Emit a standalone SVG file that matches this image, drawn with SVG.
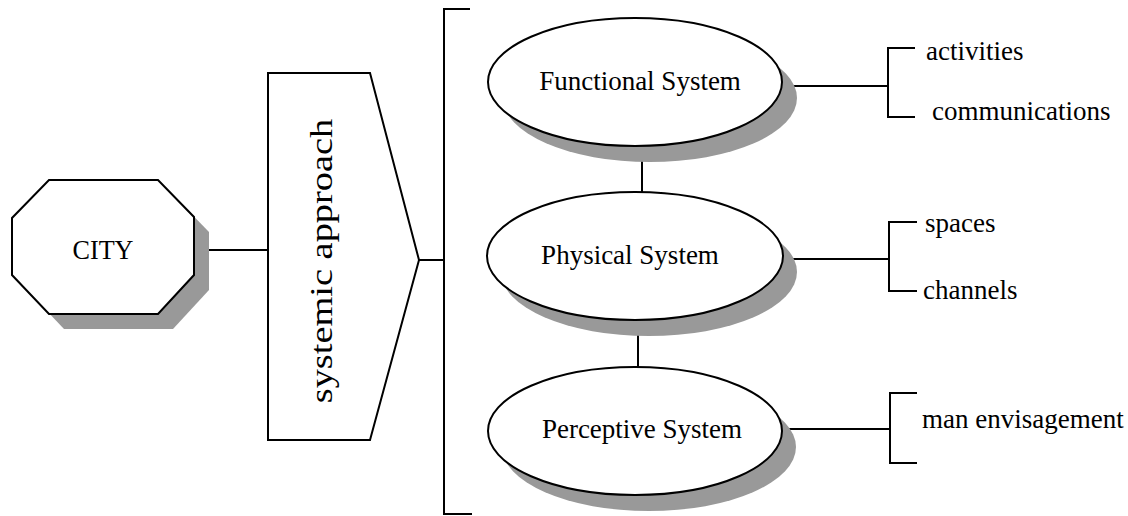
<svg xmlns="http://www.w3.org/2000/svg" width="1128" height="516" viewBox="0 0 1128 516">
<style>
.shape{fill:#ffffff;stroke:#000000;stroke-width:2}
.shadow{fill:#999999;stroke:none}
.line{fill:none;stroke:#000000;stroke-width:2}
text{font-family:"Liberation Serif","Times New Roman",serif;fill:#000000;font-size:27px}
</style>
<rect width="1128" height="516" fill="#ffffff"/>
<g id="connectors">
<line class="line" x1="194" y1="250" x2="268" y2="250"/>
<line class="line" x1="419" y1="260" x2="444" y2="260"/>
<polyline class="line" points="470,9 444,9 444,514 472,514"/>
<line class="line" x1="642" y1="146" x2="642" y2="193"/>
<line class="line" x1="638" y1="320" x2="638" y2="367"/>
<line class="line" x1="782" y1="86" x2="888" y2="86"/>
<polyline class="line" points="915,48 888,48 888,117 915,117"/>
<line class="line" x1="784" y1="259" x2="889" y2="259"/>
<polyline class="line" points="917,222 889,222 889,291 917,291"/>
<line class="line" x1="782" y1="429" x2="890" y2="429"/>
<polyline class="line" points="917,393 890,393 890,463 917,463"/>
</g>
<g id="city">
<polygon class="shadow" points="64,195 173,195 209,232 209,290 173,329 64,329 27,290 27,233"/>
<polygon class="shape" points="49,180 158,180 194,217 194,275 158,314 49,314 12,275 12,218"/>
<text x="103" y="259" text-anchor="middle" style="font-size:28px" textLength="61" lengthAdjust="spacingAndGlyphs">CITY</text>
</g>
<g id="systemic-approach">
<polygon class="shape" points="268,73 370,73 419,260 370,440 268,440"/>
<text transform="translate(332,261) rotate(-90) scale(1.2,1)" text-anchor="middle" style="font-size:32px">systemic approach</text>
</g>
<g id="functional-system">
<ellipse class="shadow" cx="650" cy="98" rx="147" ry="64"/>
<ellipse class="shape" cx="635" cy="82" rx="147" ry="64"/>
<text x="640" y="90" text-anchor="middle">Functional System</text>
</g>
<g id="physical-system">
<ellipse class="shadow" cx="649" cy="272" rx="148" ry="64"/>
<ellipse class="shape" cx="635" cy="256" rx="148" ry="64"/>
<text x="630" y="264" text-anchor="middle">Physical System</text>
</g>
<g id="perceptive-system">
<ellipse class="shadow" cx="649" cy="447" rx="147" ry="64"/>
<ellipse class="shape" cx="635" cy="431" rx="147" ry="64"/>
<text x="642" y="438" text-anchor="middle">Perceptive System</text>
</g>
<g id="activities"><text x="926" y="60">activities</text></g>
<g id="communications"><text x="932" y="120">communications</text></g>
<g id="spaces"><text x="925" y="232">spaces</text></g>
<g id="channels"><text x="923" y="299">channels</text></g>
<g id="man-envisagement"><text x="922" y="428">man envisagement</text></g>
</svg>
